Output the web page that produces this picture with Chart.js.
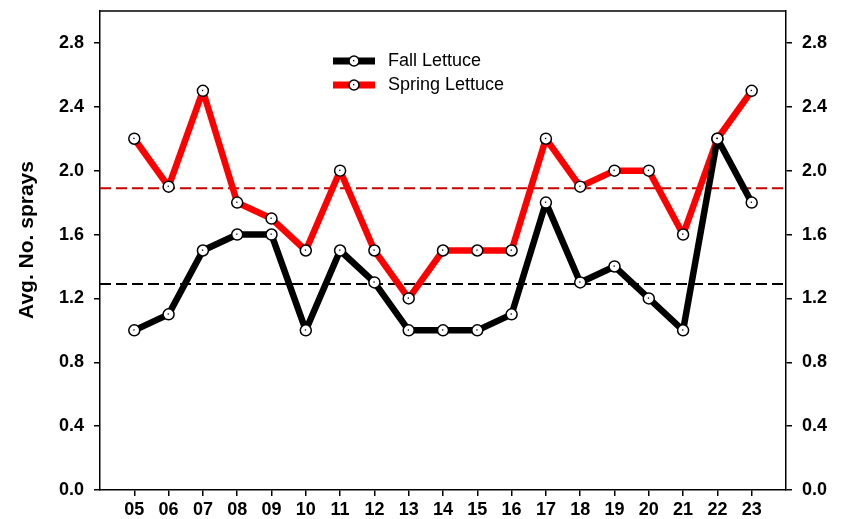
<!DOCTYPE html>
<html><head><meta charset="utf-8">
<script src="https://cdn.jsdelivr.net/npm/chart.js@4.4.0/dist/chart.umd.min.js"></script>
<style>html,body{margin:0;padding:0;background:#fff}#wrap{width:854px;height:519px;position:relative}</style>
</head><body><div id="wrap"><canvas id="c"></canvas></div>
<script>
const categories = ['05','06','07','08','09','10','11','12','13','14','15','16','17','18','19','20','21','22','23'];
const fallLettuce   = [1.0,1.1,1.5,1.6,1.6,1.0,1.5,1.3,1.0,1.0,1.0,1.1,1.8,1.3,1.4,1.2,1.0,2.2,1.8];
const springLettuce = [2.2,1.9,2.5,1.8,1.7,1.5,2.0,1.5,1.2,1.5,1.5,1.5,2.2,1.9,2.0,2.0,1.6,2.2,2.5];
const fallAverage = 1.29;
const springAverage = 1.89;
const yTickValues = [0, 0.4, 0.8, 1.2, 1.6, 2.0, 2.4, 2.8];
const yMax = 3.0;
const seriesNames = ['Fall Lettuce', 'Spring Lettuce'];
const yTitle = 'Avg. No. sprays';

const FONT = "'Liberation Sans', Arial, sans-serif";
const catNums = categories.map(c => parseInt(c, 10));
const xMin = catNums[0] - 1, xMax = catNums[catNums.length - 1] + 1;
const toPts = arr => arr.map((v, i) => ({x: catNums[i], y: v}));
const colors = ['#000000', '#ff0000'];

Chart.defaults.color = '#000';
Chart.defaults.font.family = FONT;

const pointStyleOpts = {
  pointRadius: 5.5, pointHoverRadius: 5.5,
  pointBackgroundColor: '#fff', pointBorderColor: '#000', pointBorderWidth: 1.5,
  borderJoinStyle: 'round'
};

const boxAndDecor = {
  id: 'decor',
  beforeDatasetsDraw(chart) {
    const {ctx, chartArea: a} = chart;
    ctx.save();
    ctx.strokeStyle = '#000'; ctx.lineWidth = 1.5;
    ctx.beginPath(); ctx.moveTo(a.left, a.top); ctx.lineTo(a.right, a.top); ctx.stroke();
    ctx.restore();
  },
  afterDatasetsDraw(chart) {
    const {ctx} = chart;
    ctx.save();
    ctx.fillStyle = '#000';
    [0, 1].forEach(i => {
      chart.getDatasetMeta(i).data.forEach(p => { ctx.fillRect(p.x - 1, p.y - 1, 1.3, 1.3); });
    });
    // legend
    const lx = 333, ly = [61, 85];
    seriesNames.forEach((n, i) => {
      const y = ly[i];
      ctx.strokeStyle = colors[i]; ctx.lineWidth = 7;
      ctx.beginPath(); ctx.moveTo(lx, y); ctx.lineTo(lx + 42, y); ctx.stroke();
      ctx.beginPath(); ctx.arc(lx + 21, y, 5, 0, Math.PI * 2);
      ctx.fillStyle = '#fff'; ctx.fill();
      ctx.strokeStyle = '#000'; ctx.lineWidth = 1.5; ctx.stroke();
      ctx.fillStyle = '#000'; ctx.fillRect(lx + 20, y - 1, 1.3, 1.3);
      ctx.font = '18px ' + FONT; ctx.textBaseline = 'middle'; ctx.textAlign = 'left';
      ctx.fillText(n, lx + 55, y);
    });
    // y title
    ctx.translate(27, 240); ctx.rotate(-Math.PI / 2);
    ctx.font = 'bold 21px ' + FONT; ctx.textAlign = 'center'; ctx.textBaseline = 'middle';
    ctx.fillText(yTitle, 0, 0);
    ctx.restore();
  }
};

const axisCommon = {
  border: {display: true, color: '#000', width: 1.5},
  grid: {display: true, drawOnChartArea: false, drawTicks: true, tickLength: 6, color: '#000', lineWidth: 1.5}
};

const fitY = w => s => { s.width = w; s.paddingTop = 0; s.paddingBottom = 0; };

new Chart(document.getElementById('c'), {
  type: 'line',
  data: {
    datasets: [
      Object.assign({label: seriesNames[0], data: toPts(fallLettuce), borderColor: colors[0], borderWidth: 6.5, yAxisID: 'y'}, pointStyleOpts),
      Object.assign({label: seriesNames[1], data: toPts(springLettuce), borderColor: colors[1], borderWidth: 6.5, yAxisID: 'y'}, pointStyleOpts),
      {label: 'Fall avg', data: [{x: xMin, y: fallAverage}, {x: xMax, y: fallAverage}], borderColor: '#000', borderWidth: 2, borderDash: [11, 5], pointRadius: 0, yAxisID: 'y'},
      {label: 'Spring avg', data: [{x: xMin, y: springAverage}, {x: xMax, y: springAverage}], borderColor: '#cc0000', borderWidth: 2, borderDash: [11, 5], pointRadius: 0, yAxisID: 'y'}
    ]
  },
  options: {
    responsive: true, maintainAspectRatio: false, animation: false,
    layout: {padding: {top: 11, left: 0, right: 0, bottom: 0}},
    plugins: {legend: {display: false}, tooltip: {enabled: false}},
    scales: {
      x: Object.assign({}, axisCommon, {
        type: 'linear', min: xMin, max: xMax,
        afterBuildTicks: s => { s.ticks = catNums.map(v => ({value: v})); },
        afterFit: s => { s.height = 29; s.paddingLeft = 0; s.paddingRight = 0; },
        ticks: {font: {size: 18, weight: 'bold'}, padding: 3, maxRotation: 0, autoSkip: false,
          callback: v => String(v).padStart(2, '0')}
      }),
      y: Object.assign({}, axisCommon, {
        position: 'left', min: 0, max: yMax,
        afterBuildTicks: s => { s.ticks = yTickValues.map(v => ({value: v})); },
        afterFit: fitY(100),
        ticks: {font: {size: 18, weight: 'bold'}, padding: 10, callback: v => v.toFixed(1)}
      }),
      y2: Object.assign({}, axisCommon, {
        position: 'right', min: 0, max: yMax,
        afterBuildTicks: s => { s.ticks = yTickValues.map(v => ({value: v})); },
        afterFit: fitY(68),
        ticks: {font: {size: 18, weight: 'bold'}, padding: 10, callback: v => v.toFixed(1)}
      })
    }
  },
  plugins: [boxAndDecor]
});
</script></body></html>
